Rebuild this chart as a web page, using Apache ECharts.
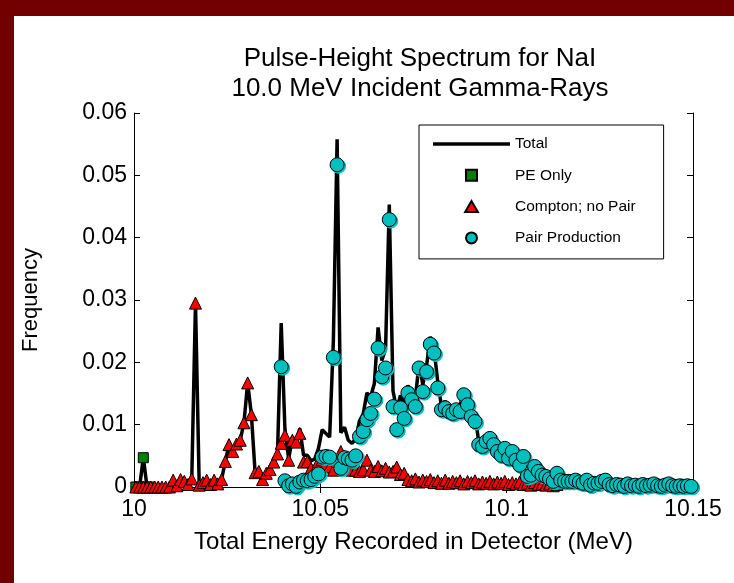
<!DOCTYPE html>
<html>
<head>
<meta charset="utf-8">
<script src="https://cdn.jsdelivr.net/npm/echarts@6/dist/echarts.min.js"></script>
<style>
html,body{margin:0;padding:0;background:#fff;}
#chart{width:734px;height:583px;}
</style>
</head>
<body>
<div id="chart"></div>
<script>
// Bin centres (MeV)
const energies = [
10.0005,10.0015,10.0025,10.0035,10.0045,10.0055,10.0065,10.0075,10.0085,10.0095,
10.0105,10.0115,10.0125,10.0135,10.0145,10.0155,10.0165,10.0175,10.0185,10.0195,
10.0205,10.0215,10.0225,10.0235,10.0245,10.0255,10.0265,10.0275,10.0285,10.0295,
10.0305,10.0315,10.0325,10.0335,10.0345,10.0355,10.0365,10.0375,10.0385,10.0395,
10.0405,10.0415,10.0425,10.0435,10.0445,10.0455,10.0465,10.0475,10.0485,10.0495,
10.0505,10.0515,10.0525,10.0535,10.0545,10.0555,10.0565,10.0575,10.0585,10.0595,
10.0605,10.0615,10.0625,10.0635,10.0645,10.0655,10.0665,10.0675,10.0685,10.0695,
10.0705,10.0715,10.0725,10.0735,10.0745,10.0755,10.0765,10.0775,10.0785,10.0795,
10.0805,10.0815,10.0825,10.0835,10.0845,10.0855,10.0865,10.0875,10.0885,10.0895,
10.0905,10.0915,10.0925,10.0935,10.0945,10.0955,10.0965,10.0975,10.0985,10.0995,
10.1005,10.1015,10.1025,10.1035,10.1045,10.1055,10.1065,10.1075,10.1085,10.1095,
10.1105,10.1115,10.1125,10.1135,10.1145,10.1155,10.1165,10.1175,10.1185,10.1195,
10.1205,10.1215,10.1225,10.1235,10.1245,10.1255,10.1265,10.1275,10.1285,10.1295,
10.1305,10.1315,10.1325,10.1335,10.1345,10.1355,10.1365,10.1375,10.1385,10.1395,
10.1405,10.1415,10.1425,10.1435,10.1445,10.1455,10.1465,10.1475,10.1485,10.1495
];

const totalFreq = [
0,0,0.0047,0,0,0,0,0,0,0,
0.0011,0.0002,0.0012,0.0009,0.0004,0.0013,0.0295,0.0003,0.0007,0.0011,
0.0004,0.0011,0.0005,0.0012,0.0041,0.0068,0.0057,0.0069,0.0075,0.0103,
0.0167,0.0116,0.0023,0.0025,0.0012,0.0022,0.0028,0.0040,0.0053,0.0263,
0.0093,0.0045,0.0080,0.0073,0.0094,0.0051,0.0051,0.0042,0.0045,0.0062,
0.0092,0.0086,0.0080,0.0235,0.0558,0.0087,0.0096,0.0075,0.0070,0.0077,
0.0106,0.0117,0.0151,0.0145,0.0166,0.0256,0.0203,0.0221,0.0453,0.0154,
0.0124,0.0147,0.0132,0.0163,0.0150,0.0142,0.0199,0.0164,0.0194,0.0241,
0.0222,0.0169,0.0130,0.0138,0.0127,0.0127,0.0131,0.0131,0.0153,0.0141,
0.0120,0.0115,0.0073,0.0073,0.0079,0.0087,0.0073,0.0065,0.0057,0.0071,
0.0050,0.0064,0.0048,0.0043,0.0053,0.0023,0.0022,0.0040,0.0029,0.0024,
0.0020,0.0018,0.0011,0.0026,0.0012,0.0009,0.0009,0.0009,0.0011,0.0008,
0.0006,0.0011,0.0003,0.0006,0.0006,0.0009,0.0011,0.0004,0.0002,0.0004,
0.0003,0.0001,0.0005,0.0002,0.0003,0.0001,0.0004,0.0002,0.0003,0.0005,
0.0002,0.0001,0.0003,0.0005,0.0002,0.0001,0.0002,0.0001,0.0002,0.0001
];

const peOnly = [0,0,0.0047,0,0];

const comptonNoPair = [
0,0,0,0,0,0,0,0,0,0,
0.0011,0.0002,0.0012,0.0009,0.0004,0.0013,0.0295,0.0003,0.0007,0.0011,
0.0004,0.0011,0.0005,0.0012,0.0041,0.0068,0.0057,0.0069,0.0075,0.0103,
0.0167,0.0116,0.0023,0.0025,0.0012,0.0022,0.0028,0.0040,0.0053,0.0070,
0.0083,0.0043,0.0075,0.0072,0.0086,0.0040,0.0041,0.0030,0.0028,0.0041,
0.0044,0.0037,0.0032,0.0027,0.0041,0.0057,0.0049,0.0030,0.0027,0.0027,
0.0025,0.0028,0.0043,0.0027,0.0025,0.0033,0.0026,0.0030,0.0024,0.0025,
0.0032,0.0020,0.0022,0.0012,0.0010,0.0013,0.0008,0.0011,0.0009,0.0012,
0.0007,0.0010,0.0006,0.0011,0.0006,0.0009,0.0007,0.0010,0.0005,0.0009,
0.0007,0.0010,0.0005,0.0008,0.0006,0.0009,0.0005,0.0008,0.0006,0.0009,
0.0004,0.0007,0.0005,0.0008,0.0004,0.0006,0.0003,0.0007,0.0004,0.0005,
0.0003,0.0005,0.0002,0.0004
];

const pairProduction = [
null,null,null,null,null,null,null,null,null,null,
null,null,null,null,null,null,null,null,null,null,
null,null,null,null,null,null,null,null,null,null,
null,null,null,null,null,null,null,null,null,0.0193,
0.0010,0.0002,0.0005,0.0001,0.0008,0.0011,0.0010,0.0012,0.0017,0.0021,
0.0048,0.0049,0.0048,0.0208,0.0517,0.0030,0.0047,0.0045,0.0043,0.0050,
0.0081,0.0089,0.0108,0.0118,0.0141,0.0223,0.0177,0.0191,0.0429,0.0129,
0.0092,0.0127,0.0110,0.0151,0.0140,0.0129,0.0191,0.0153,0.0185,0.0229,
0.0215,0.0159,0.0124,0.0127,0.0121,0.0118,0.0124,0.0121,0.0148,0.0132,
0.0113,0.0105,0.0068,0.0065,0.0073,0.0078,0.0068,0.0057,0.0051,0.0062,
0.0046,0.0057,0.0043,0.0035,0.0049,0.0017,0.0019,0.0033,0.0025,0.0019,
0.0017,0.0013,0.0009,0.0022,0.0011,0.0009,0.0009,0.0009,0.0011,0.0008,
0.0006,0.0011,0.0003,0.0006,0.0006,0.0009,0.0011,0.0004,0.0002,0.0004,
0.0003,0.0001,0.0005,0.0002,0.0003,0.0001,0.0004,0.0002,0.0003,0.0005,
0.0002,0.0001,0.0003,0.0005,0.0002,0.0001,0.0002,0.0001,0.0002,0.0001
];

const seriesNames = ['Total','PE Only','Compton; no Pair','Pair Production'];
const titleLines = ['Pulse-Height Spectrum for NaI','10.0 MeV Incident Gamma-Rays'];
const xTitle = 'Total Energy Recorded in Detector (MeV)';
const yTitle = 'Frequency';

function pairs(vals){
  const out = [];
  for (let i = 0; i < vals.length; i++) {
    if (vals[i] !== null && vals[i] !== undefined) out.push([energies[i], vals[i]]);
  }
  return out;
}

const FONT = 'Liberation Sans, Arial, sans-serif';
const chart = echarts.init(document.getElementById('chart'), null, {renderer:'canvas'});
const fmt = v => String(parseFloat(Number(v).toFixed(4)));

const axisCommon = {
  axisLine: {show: true, lineStyle: {color: '#000', width: 1}},
  axisTick: {show: true, inside: true, length: 6, lineStyle: {color: '#000'}},
  splitLine: {show: false}
};

chart.setOption({
  backgroundColor: '#fff',
  animation: false,
  title: {
    text: titleLines.join('\n'),
    left: 415, top: 39, textAlign: 'center',
    textStyle: {fontFamily: FONT, fontSize: 26, fontWeight: 'normal', color: '#000', lineHeight: 30}
  },
  graphic: [
    {type: 'rect', shape: {x: 0, y: 0, width: 14, height: 583}, style: {fill: '#720000'}, z: 100},
    {type: 'rect', shape: {x: 0, y: 0, width: 734, height: 16}, style: {fill: '#720000'}, z: 100}
  ],
  grid: {left: 134, right: 41, top: 113, bottom: 96, containLabel: false},
  legend: {
    data: [
      {name: seriesNames[0], icon: 'path://M0,0 H75 V3.5 H0 Z'},
      {name: seriesNames[1], icon: 'path://M0,0 H10 V10 H0 Z'},
      {name: seriesNames[2], icon: 'path://M5,0 L10.5,9.5 L-0.5,9.5 Z'},
      {name: seriesNames[3], icon: 'circle'}
    ],
    orient: 'vertical',
    left: 419, top: 125,
    padding: [11, 28, 13, 14],
    itemWidth: 77, itemHeight: 11, itemGap: 15.3,
    symbolKeepAspect: true,
    borderColor: '#000', borderWidth: 1, backgroundColor: '#fff',
    textStyle: {fontFamily: FONT, fontSize: 15.5, color: '#000'}
  },
  xAxis: [
    Object.assign({}, axisCommon, {
      type: 'value', min: 10, max: 10.15, interval: 0.05, position: 'bottom',
      axisLabel: {formatter: fmt, fontFamily: FONT, fontSize: 23, color: '#000', margin: 11},
      name: xTitle, nameLocation: 'middle', nameGap: 43,
      nameTextStyle: {fontFamily: FONT, fontSize: 24, color: '#000'}
    }),
    Object.assign({}, axisCommon, {
      type: 'value', min: 10, max: 10.15, interval: 0.05, position: 'top',
      axisLabel: {show: false}
    })
  ],
  yAxis: [
    Object.assign({}, axisCommon, {
      type: 'value', min: 0, max: 0.06, interval: 0.01, position: 'left',
      axisLabel: {formatter: fmt, fontFamily: FONT, fontSize: 23, color: '#000', margin: 7},
      name: yTitle, nameLocation: 'middle', nameGap: 92,
      nameTextStyle: {fontFamily: FONT, fontSize: 22, color: '#000'}
    }),
    Object.assign({}, axisCommon, {
      type: 'value', min: 0, max: 0.06, interval: 0.01, position: 'right',
      axisLabel: {show: false}
    })
  ],
  series: [
    {
      name: seriesNames[0], type: 'line', data: pairs(totalFreq),
      symbol: 'none', showSymbol: false,
      lineStyle: {color: '#000', width: 3.5}, itemStyle: {color: '#000'},
      z: 2
    },
    {
      name: seriesNames[1], type: 'scatter', data: pairs(peOnly),
      symbol: 'rect', symbolSize: 10,
      itemStyle: {color: '#008000', borderColor: '#000', borderWidth: 1, opacity: 1},
      z: 3
    },
    {
      name: seriesNames[2], type: 'scatter', data: pairs(comptonNoPair),
      symbol: 'triangle', symbolSize: 12,
      itemStyle: {color: '#ff0000', borderColor: '#000', borderWidth: 1, opacity: 1},
      z: 4
    },
    {
      name: seriesNames[3], type: 'scatter', data: pairs(pairProduction),
      symbol: 'circle', symbolSize: 14,
      itemStyle: {color: '#00bfbf', borderColor: '#000', borderWidth: 1, opacity: 1,
        shadowColor: '#00bfbf', shadowOffsetX: 1.5, shadowOffsetY: 1.5, shadowBlur: 0},
      z: 5
    }
  ]
});
</script>
</body>
</html>
